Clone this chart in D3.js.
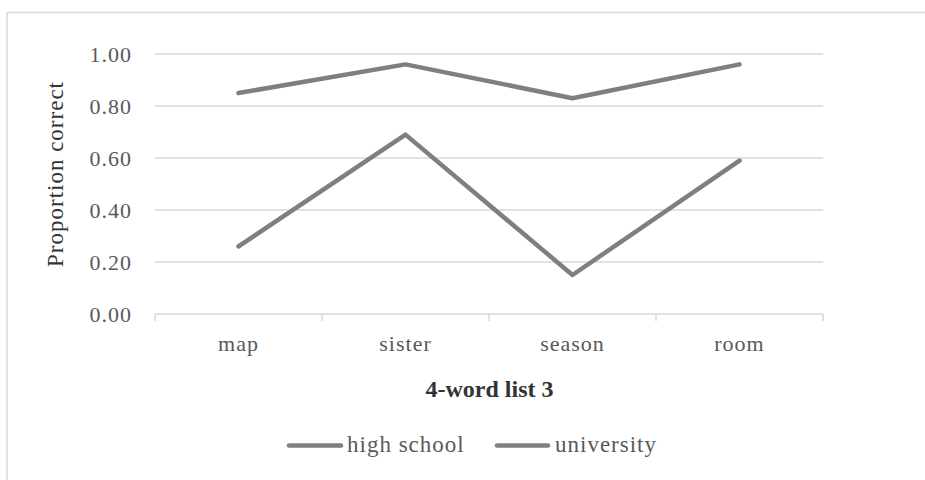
<!DOCTYPE html>
<html>
<head>
<meta charset="utf-8">
<script src="https://cdn.jsdelivr.net/npm/d3@7"></script>
<style>
  html, body { margin: 0; padding: 0; background: #fff; }
  svg { display: block; }
</style>
</head>
<body>
<svg id="chart" width="925" height="480"></svg>
<script>
// Word items on the x axis
const categories = ["map", "sister", "season", "room"];
// Proportion correct per word, by group
const highSchool = [0.26, 0.69, 0.15, 0.59];
const university = [0.85, 0.96, 0.83, 0.96];
// Y axis ticks
const yTicks = [0, 0.2, 0.4, 0.6, 0.8, 1.0];
const seriesNames = ["high school", "university"];

const xTitle = "4-word list 3";
const yTitle = "Proportion correct";

const W = 925, H = 480;
const plot = { left: 155, right: 823, top: 54, bottom: 314 };
const lineColor = "#7f7f7f";
const gridColor = "#d9d9d9";
const textColor = "#595959";
const titleColor = "#333333";
const serif = "'Liberation Serif', 'Times New Roman', serif";

const svg = d3.select("#chart");

function styleText(sel, size) {
  sel.attr("fill", textColor)
    .style("font-family", serif)
    .style("font-size", size + "px")
    .style("letter-spacing", "1px");
}

// Outer chart frame
svg.append("rect")
  .attr("x", 7).attr("y", 12.5)
  .attr("width", W + 20).attr("height", H + 20)
  .attr("fill", "#fff")
  .attr("stroke", gridColor)
  .attr("stroke-width", 1.5);

const x = d3.scaleBand()
  .domain(categories)
  .range([plot.left, plot.right])
  .padding(0);

const y = d3.scaleLinear()
  .domain([0, 1])
  .range([plot.bottom, plot.top]);

// Horizontal gridlines
svg.append("g")
  .selectAll("line")
  .data(yTicks.filter(d => d > 0))
  .join("line")
  .attr("x1", plot.left).attr("x2", plot.right)
  .attr("y1", d => y(d)).attr("y2", d => y(d))
  .attr("stroke", gridColor)
  .attr("stroke-width", 1.5);

// Y axis labels
const yAxis = d3.axisLeft(y)
  .tickValues(yTicks)
  .tickFormat(d3.format(".2f"))
  .tickSize(0)
  .tickPadding(23);

svg.append("g")
  .attr("transform", `translate(${plot.left},0)`)
  .call(yAxis)
  .call(g => g.select(".domain").remove())
  .call(g => styleText(g.selectAll("text"), 22));

// X axis baseline with boundary ticks between categories
const boundaries = categories.map(c => x(c)).concat([x(categories[categories.length - 1]) + x.bandwidth()]);
const xg = svg.append("g");
xg.append("line")
  .attr("x1", plot.left).attr("x2", plot.right)
  .attr("y1", y(0)).attr("y2", y(0))
  .attr("stroke", gridColor)
  .attr("stroke-width", 1.5);
xg.selectAll("line.tick")
  .data(boundaries)
  .join("line")
  .attr("class", "tick")
  .attr("x1", d => d).attr("x2", d => d)
  .attr("y1", y(0)).attr("y2", y(0) + 7)
  .attr("stroke", gridColor)
  .attr("stroke-width", 1.5);

// Category labels
const xAxis = d3.axisBottom(x).tickSize(0).tickPadding(21);
svg.append("g")
  .attr("transform", `translate(0,${plot.bottom})`)
  .call(xAxis)
  .call(g => g.select(".domain").remove())
  .call(g => styleText(g.selectAll("text"), 22));

// Lines
const line = d3.line()
  .x((d, i) => x(categories[i]) + x.bandwidth() / 2)
  .y(d => y(d));

[highSchool, university].forEach(vals => {
  svg.append("path")
    .datum(vals)
    .attr("d", line)
    .attr("fill", "none")
    .attr("stroke", lineColor)
    .attr("stroke-width", 4.5)
    .attr("stroke-linecap", "round")
    .attr("stroke-linejoin", "round");
});

// Axis titles
svg.append("text")
  .attr("x", (plot.left + plot.right) / 2 + 0.5)
  .attr("y", 397)
  .attr("text-anchor", "middle")
  .attr("fill", titleColor)
  .style("font-family", serif)
  .style("font-weight", "bold")
  .style("font-size", "24px")
  .text(xTitle);

svg.append("text")
  .attr("transform", `translate(63,${(78 + 270) / 2}) rotate(-90)`)
  .attr("text-anchor", "middle")
  .attr("fill", titleColor)
  .style("font-family", serif)
  .style("font-size", "23px")
  .style("letter-spacing", "1px")
  .text(yTitle);

// Legend
const legendItems = [
  { name: seriesNames[0], x0: 289, x1: 341, tx: 347 },
  { name: seriesNames[1], x0: 497, x1: 548, tx: 555 }
];
const lg = svg.append("g");
legendItems.forEach(item => {
  lg.append("line")
    .attr("x1", item.x0).attr("x2", item.x1)
    .attr("y1", 445.5).attr("y2", 445.5)
    .attr("stroke", lineColor)
    .attr("stroke-width", 4.5)
    .attr("stroke-linecap", "round");
  styleText(lg.append("text")
    .attr("x", item.tx)
    .attr("y", 452)
    .text(item.name), 23);
});
</script>
</body>
</html>
